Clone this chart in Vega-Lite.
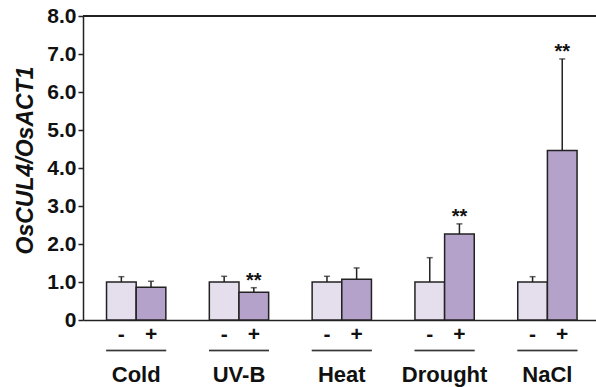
{
  "$schema": "https://vega.github.io/schema/vega-lite/v6.json",
  "autosize": {"type": "none"},
  "padding": {"left": 83, "top": 16, "right": 0, "bottom": 67},
  "width": 513,
  "height": 304,
  "background": "white",
  "config": {
    "view": {"stroke": null},
    "font": "Liberation Sans",
    "axisY": {
      "titleFont": "Liberation Sans",
      "titleFontSize": 23,
      "titleFontWeight": "bold",
      "titleFontStyle": "italic",
      "titleColor": "#111",
      "titlePadding": 9,
      "labelOverlap": false,
      "labelFont": "Liberation Sans",
      "labelFontSize": 21,
      "labelFontWeight": "bold",
      "labelColor": "#111",
      "labelPadding": 2,
      "tickSize": 5,
      "tickColor": "#222",
      "tickWidth": 1.5,
      "domainColor": "#222",
      "domainWidth": 1.5,
      "grid": false
    }
  },
  "resolve": {"axis": {"y": "independent"}},
  "data": {
    "values": [
      {"group": "Cold", "trt": "-", "mean": 1.0, "hi": 1.14, "sig": ""},
      {"group": "Cold", "trt": "+", "mean": 0.86, "hi": 1.02, "sig": ""},
      {"group": "UV-B", "trt": "-", "mean": 1.0, "hi": 1.15, "sig": ""},
      {"group": "UV-B", "trt": "+", "mean": 0.73, "hi": 0.85, "sig": "**"},
      {"group": "Heat", "trt": "-", "mean": 1.0, "hi": 1.15, "sig": ""},
      {"group": "Heat", "trt": "+", "mean": 1.07, "hi": 1.37, "sig": ""},
      {"group": "Drought", "trt": "-", "mean": 1.0, "hi": 1.64, "sig": ""},
      {"group": "Drought", "trt": "+", "mean": 2.26, "hi": 2.53, "sig": "**"},
      {"group": "NaCl", "trt": "-", "mean": 1.0, "hi": 1.14, "sig": ""},
      {"group": "NaCl", "trt": "+", "mean": 4.46, "hi": 6.87, "sig": "**"}
    ]
  },
  "encoding": {
    "x": {
      "field": "group",
      "type": "nominal",
      "sort": ["Cold", "UV-B", "Heat", "Drought", "NaCl"],
      "scale": {"paddingInner": 0.423, "paddingOuter": 0.2065, "align": 0.554},
      "axis": {
        "title": null,
        "ticks": false,
        "labelAngle": 0,
        "labelPadding": 44,
        "labelFont": "Liberation Sans",
        "labelFontSize": 22,
        "labelFontWeight": "bold",
        "labelColor": "#111",
        "domainColor": "#222",
        "domainWidth": 1.5
      }
    }
  },
  "layer": [
    {
      "mark": {"type": "bar", "stroke": "#222", "strokeWidth": 1.5},
      "encoding": {
        "xOffset": {"field": "trt", "type": "nominal", "sort": ["-", "+"], "scale": {"paddingInner": 0, "paddingOuter": 0}},
        "y": {
          "field": "mean",
          "type": "quantitative",
          "scale": {"domain": [0, 8], "nice": false, "zero": true},
          "axis": {
            "title": "OsCUL4/OsACT1",
            "titleY": 144,
            "values": [0, 1, 2, 3, 4, 5, 6, 7, 8],
            "labelExpr": "datum.value == 0 ? '0' : format(datum.value, '.1f')"
          }
        },
        "fill": {
          "field": "trt",
          "type": "nominal",
          "scale": {"domain": ["-", "+"], "range": ["#e5deec", "#b4a2ca"]},
          "legend": null
        }
      }
    },
    {
      "mark": {"type": "rule", "stroke": "#222", "strokeWidth": 1.5},
      "encoding": {
        "x": null,
        "y": {"datum": 8, "type": "quantitative", "axis": null}
      }
    },
    {
      "mark": {"type": "rule", "stroke": "#222", "strokeWidth": 1.5},
      "encoding": {
        "xOffset": {"field": "trt", "type": "nominal", "sort": ["-", "+"]},
        "y": {"field": "mean", "type": "quantitative", "axis": null},
        "y2": {"field": "hi"}
      }
    },
    {
      "mark": {"type": "tick", "color": "#222", "size": 6, "thickness": 1.5, "orient": "horizontal"},
      "encoding": {
        "xOffset": {"field": "trt", "type": "nominal", "sort": ["-", "+"]},
        "y": {"field": "hi", "type": "quantitative", "axis": null}
      }
    },
    {
      "mark": {"type": "text", "font": "Liberation Sans", "fontSize": 20, "fontWeight": "bold", "baseline": "alphabetic", "dy": -1, "color": "#111"},
      "encoding": {
        "xOffset": {"field": "trt", "type": "nominal", "sort": ["-", "+"]},
        "y": {"field": "hi", "type": "quantitative", "axis": null},
        "text": {"field": "sig"}
      }
    },
    {
      "mark": {"type": "text", "font": "Liberation Sans", "fontSize": 21, "fontWeight": "bold", "baseline": "middle", "color": "#111"},
      "encoding": {
        "xOffset": {"field": "trt", "type": "nominal", "sort": ["-", "+"]},
        "y": {"datum": -0.4, "type": "quantitative", "axis": null},
        "text": {"field": "trt"}
      }
    },
    {
      "mark": {"type": "tick", "color": "#222", "size": 60, "thickness": 1.5, "orient": "horizontal"},
      "encoding": {
        "y": {"datum": -0.8, "type": "quantitative", "axis": null}
      }
    }
  ]
}
